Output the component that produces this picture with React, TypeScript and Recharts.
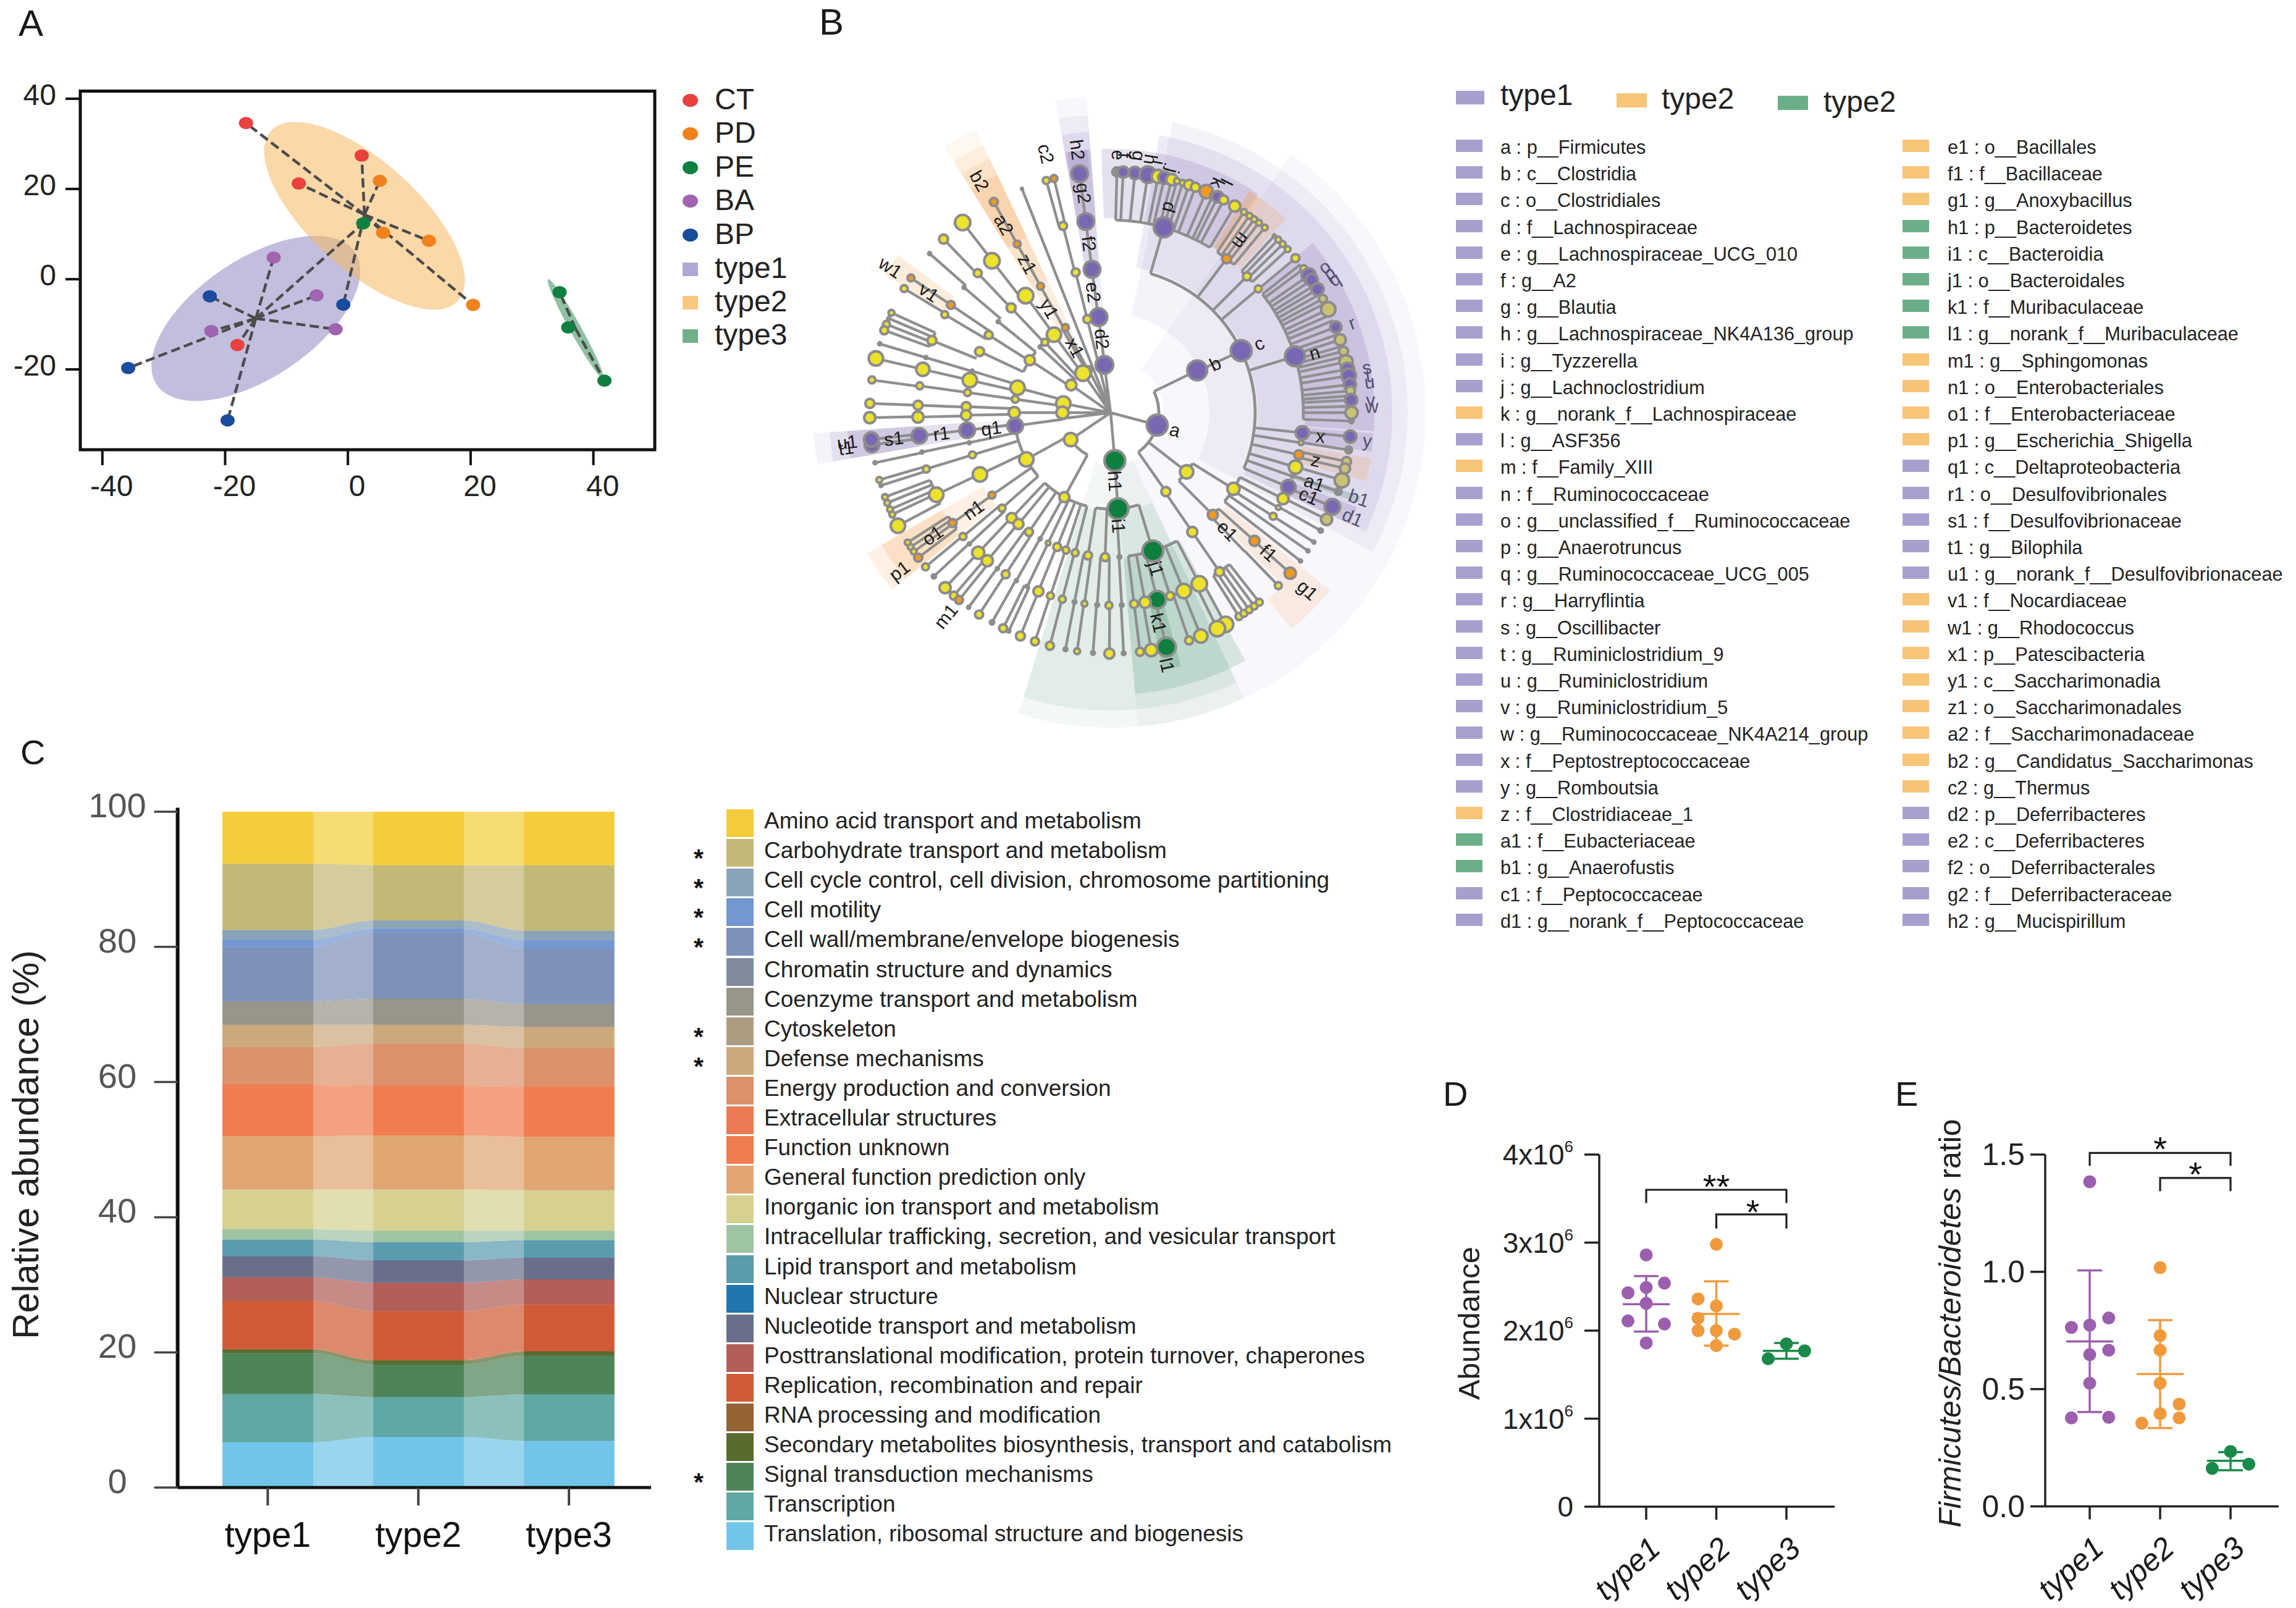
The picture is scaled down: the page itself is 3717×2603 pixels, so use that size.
import React from 'react';
import {
    Area, AreaChart, Bar, BarChart, ComposedChart, ErrorBar, Line, Pie, PieChart,
    ReferenceArea, Scatter, ScatterChart, XAxis, YAxis,
} from 'recharts';

const FONT = '"Liberation Sans", Arial, sans-serif';

// ---- panel A: PCoA points
const groupNames = ['CT', 'PD', 'PE', 'BA', 'BP'];
const groupColors = ['#e8413f', '#f0821e', '#0f8040', '#a064b0', '#1a4b9f'];
const ctPoints = [[-16.6, 34.6], [2.25, 27.4], [-8, 21.2], [-18, -14.6]];
const pdPoints = [[5.2, 21.8], [5.75, 10.3], [13.2, 8.5], [20.4, -5.7]];
const pePoints = [[2.5, 12.4], [34.5, -2.9], [35.9, -10.7], [41.8, -22.5]];
const baPoints = [[-12.1, 4.8], [-5.1, -3.6], [-22.25, -11.5], [-2, -11.1]];
const bpPoints = [[-22.5, -3.8], [-0.75, -5.65], [-35.8, -19.7], [-19.6, -31.3]];
const pcoaGroups = [ctPoints, pdPoints, pePoints, baPoints, bpPoints];
const type1Center = [-15, -8.7];
const type2Center = [2.7, 14.3];
const type3Center = [37.1, -11];
const type1Members = [ctPoints[3], baPoints[0], baPoints[1], baPoints[2], baPoints[3], bpPoints[0], bpPoints[2], bpPoints[3], pePoints[0]];
const type2Members = [ctPoints[0], ctPoints[1], ctPoints[2], pdPoints[0], pdPoints[1], pdPoints[2], pdPoints[3], bpPoints[1]];
const type3Members = [pePoints[1], pePoints[3]];
const pcoaXTicks = [-40, -20, 0, 20, 40];
const pcoaYTicks = [-20, 0, 20, 40];
const typeNames = ['type1', 'type2', 'type3'];
const typeSwatches = ['#b0a8d4', '#f8c880', '#72b08a'];

// ---- panel B: cladogram. Each fan is [parent level, children], child = [clockwise angle from north, node radius, kind]
type Child = [number, number, string];
type Fan = [number, Child[]];
const rootFan: Fan[] = [
    [0, [[105, 18, 'p'], [175, 18, 'g'], [-7.4, 15, 'p'], [-14, 0, ''], [-21.6, 0, ''], [-27, 5, 'o'], [-35, 13, 'y'], [-55, 8.5, 'y'], [-79, 12, 'y'], [-90, 10, 'y'], [-97, 0, ''], [-124, 11, 'y']]],
];
const firmicutesFans: Fan[] = [
    [1, [[64, 17, 'p'], [127.9, 11, 'y'], [145, 7, 'y']]],
    [2, [[64.6, 18, 'p']]],
    [3, [[16, 17, 'p'], [37, 7, 'o'], [45, 6, 'y'], [50, 5, 'y'], [73, 17, 'p'], [96, 11, 'p'], [99, 3, 'y'], [102.6, 7, 'o'], [106.4, 11, 'y'], [109.3, 3, 't'], [112.7, 12, 'p']]],
    [4, [[1.5, 8, 't'], [3, 9, 'p'], [5.8, 10, 'p'], [8.9, 14, 'p'], [11.4, 11, 'y'], [12.9, 10, 'p'], [14.7, 9, 'y'], [16, 4, 'y'], [17.4, 4, 'y'], [19, 8, 'y'], [20.6, 7, 'y'], [23.4, 11, 'o'], [25.2, 4, 'y'], [26.4, 9, 'p'], [28, 7, 'y'], [31, 9, 'y']]],
    [4, [[33.6, 4, 'y'], [35.2, 4, 'y'], [36.6, 4, 'y'], [38, 4, 'y'], [39.8, 4, 'y']]],
    [4, [[42.8, 3, 't'], [44.1, 4, 'y'], [45.6, 4, 'y'], [47.3, 4, 'y']]],
    [4, [[50.1, 6, 'y']]],
    [4, [[52, 0, ''], [53.3, 5, 'y'], [55.3, 12, 'p'], [56.6, 10, 'p'], [58, 0, ''], [59.2, 10, 'p'], [60.5, 0, ''], [61.8, 6, 'l'], [63, 0, ''], [64.6, 12, 'l'], [66, 0, ''], [67.5, 0, ''], [69.2, 9, 'p'], [71, 0, ''], [72.4, 9, 'l'], [74, 0, ''], [75.2, 7, 'l'], [76.5, 0, ''], [77.8, 11, 'l'], [79.6, 11, 'p'], [81.2, 12, 'p'], [83.3, 10, 'p'], [84.8, 7, 'l'], [86, 0, ''], [87, 10, 'p'], [88.5, 0, ''], [90, 10, 'l'], [92, 4, 't']]],
    [4, [[95.7, 10, 'p']]],
    [4, [[98.9, 6, 't']]],
    [4, [[101.7, 7, 'l'], [103.4, 8, 'l']]],
    [4, [[106.3, 12, 'l']]],
    [4, [[109.1, 6, 't']]],
    [4, [[113, 13, 'p']]],
    [2, [[121.8, 10, 'y'], [135, 8, 'o']]],
    [3, [[116.5, 9, 'y'], [119.5, 3, 'y'], [122.5, 5, 'y'], [125, 0, ''], [128, 0, '']]],
    [4, [[116.3, 9, 'l']]],
    [4, [[119.3, 4, 't']]],
    [4, [[122.5, 3, 't']]],
    [4, [[125, 3, 't']]],
    [4, [[128, 3, 't']]],
    [3, [[131.7, 8, 'o'], [136, 0, '']]],
    [4, [[131.8, 9, 'o']]],
    [4, [[135.9, 5, 'y']]],
    [2, [[145.6, 8, 'y']]],
    [3, [[145.6, 7, 'y']]],
    [4, [[147.8, 5, 'y'], [146.4, 5, 'y'], [144.9, 5, 'y'], [143.4, 5, 'y'], [141.9, 5, 'y']]],
];
const bacteroidetesFans: Fan[] = [
    [1, [[175.6, 18, 'g']]],
    [2, [[163, 18, 'g'], [176.5, 3.5, 't'], [182.2, 6, 'y'], [189, 6, 'y']]],
    [3, [[152.6, 13, 'y'], [157.7, 12, 'y'], [162, 6, 'y'], [166, 15, 'g'], [169.7, 9, 'y'], [173, 6, 'y']]],
    [4, [[151.5, 13, 'y'], [153.7, 13, 'y'], [158, 11, 'y'], [161, 6, 'y']]],
    [4, [[166.6, 16, 'g'], [170.3, 10, 'y'], [173, 6, 'y']]],
    [3, [[176.7, 3.5, 't']]],
    [4, [[176.9, 3.5, 't']]],
    [3, [[180.5, 5, 'y'], [184, 3.5, 't']]],
    [4, [[180.3, 8, 'y']]],
    [4, [[184.2, 3.5, 't']]],
    [3, [[187.8, 4, 'y'], [190.8, 3.5, 't']]],
    [4, [[188, 4, 'y']]],
    [4, [[190.8, 3.5, 't']]],
];
const deferriFans: Fan[] = [
    [1, [[-7.2, 15, 'p']]], [2, [[-7.4, 14, 'p']]], [3, [[-7.4, 14, 'p']]], [4, [[-7.4, 14, 'p']]],
];
const thermusFans: Fan[] = [
    [1, [[-14, 6, 'y']]], [2, [[-14, 6, 'y']]], [3, [[-14.3, 6, 'y']]], [4, [[-15.5, 5, 'y'], [-13.6, 5, 'o']]],
    [1, [[-21.6, 0, '']]], [2, [[-21.6, 0, '']]], [3, [[-21.6, 0, '']]], [4, [[-21.6, 2, 't']]],
];
const patesciFans: Fan[] = [
    [1, [[-28, 5, 'o'], [-30, 0, '']]], [2, [[-29, 5, 'o']]], [3, [[-29, 5, 'o']]], [4, [[-29, 6, 'o']]],
    [1, [[-36, 12, 'y'], [-43, 5, 'y']]],
    [2, [[-36, 13, 'y']]], [3, [[-38, 13, 'y']]], [4, [[-37.9, 13, 'y']]],
    [2, [[-43.5, 7, 'y']]], [3, [[-43.6, 6, 'y']]], [4, [[-43.9, 7, 'y']]],
];
const westFans: Fan[] = [
    [1, [[-47, 3, 't'], [-57, 8, 'y']]],
    [2, [[-51, 3, 't'], [-57.5, 6, 'y'], [-65, 7, 'y']]],
    [3, [[-49.5, 3, 't']]], [4, [[-48.7, 3, 't']]],
    [3, [[-56, 6, 'o'], [-59.4, 5, 'y']]], [4, [[-56, 5, 'o']]], [4, [[-59, 5, 'y']]],
    [3, [[-68, 7, 'y']]], [4, [[-65.5, 4, 'y'], [-67, 3, 't'], [-68.5, 5, 'y'], [-70, 6, 'y']]],
    [1, [[-75, 12, 'y'], [-82, 5, 'y']]],
    [2, [[-73.3, 3, 't'], [-77, 12, 'y']]], [3, [[-73.4, 3, 't']]], [4, [[-73.4, 3, 't']]],
    [3, [[-77, 11, 'y']]], [4, [[-77, 12, 'y']]],
    [2, [[-82, 5, 'y']]], [3, [[-82, 5, 'y']]], [4, [[-82.2, 5, 'y']]],
    [1, [[-90, 9, 'y']]],
    [2, [[-87.6, 7, 'y'], [-91, 8, 'y']]],
    [3, [[-87.8, 7, 'y']]], [4, [[-87.8, 7, 'y']]], [3, [[-91.3, 9, 'y']]], [4, [[-91.2, 9, 'y']]],
    [1, [[-97.9, 13, 'p']]], [2, [[-97, 13, 'p']]], [3, [[-96.9, 13, 'p']]], [4, [[-97.7, 12, 'p'], [-96.4, 12, 'p']]],
];
const proteoFans: Fan[] = [
    [1, [[-119, 12, 'y'], [-151.3, 8, 'y']]],
    [2, [[-102, 3, 't'], [-107, 5, 'y'], [-115.3, 12, 'y'], [-124.8, 5, 'o'], [-131.3, 5, 'y']]],
    [3, [[-101.8, 3, 't']]], [4, [[-102, 3, 't']]],
    [3, [[-107, 5, 'y']]], [4, [[-106.2, 4, 'y'], [-107.6, 3, 't']]],
    [3, [[-115.2, 12, 'y']]], [4, [[-110.5, 4, 'y'], [-112, 4, 'y'], [-113.7, 4, 'y'], [-115, 4, 'y'], [-118, 12, 'y']]],
    [3, [[-124.9, 6, 'o']]], [4, [[-122.6, 4, 'y'], [-123.9, 4, 'y'], [-125.2, 4, 'y'], [-127, 6, 'o']]],
    [3, [[-130, 5, 'y'], [-132.9, 3, 't']]], [4, [[-129.8, 5, 'y']]], [4, [[-132.8, 4, 't']]],
    [2, [[-136.8, 8, 'y'], [-140.4, 8, 'y'], [-145.6, 6, 'y'], [-150.8, 3, 't'], [-154.4, 3, 'y'], [-158.3, 6, 'y'], [-162, 5, 'y'], [-165.8, 5, 'y']]],
    [3, [[-136.6, 10, 'y']]], [4, [[-136.6, 9, 'y']]],
    [3, [[-140.2, 9, 'y']]], [4, [[-139.4, 6, 'y'], [-141, 6, 'o']]],
    [3, [[-144, 3, 't'], [-147, 6, 'y']]], [4, [[-143.9, 3, 't']]], [4, [[-146.9, 6, 'y']]],
    [3, [[-150.7, 3, 't']]], [4, [[-150.5, 4, 't']]],
    [3, [[-154.4, 3, 't']]], [4, [[-153.5, 6, 'y'], [-155, 3, 't']]],
    [3, [[-158, 8, 'y']]], [4, [[-158, 7, 'y']]],
    [3, [[-161.8, 5, 'y']]], [4, [[-161.7, 6, 'y']]],
    [3, [[-165.5, 5, 'y']]], [4, [[-165.4, 6, 'y']]],
];
const cladeFans = [...rootFan, ...firmicutesFans, ...bacteroidetesFans, ...deferriFans, ...thermusFans, ...patesciFans, ...westFans, ...proteoFans];

// highlight wedges by taxonomic depth: [start angle, end angle, inner radius, outer radius]
const purplePhylum = [[35, 175, 86, 510], [-10, -4.4, 85, 513]];
const purpleClass = [[12, 118, 160, 481], [-10, -4.4, 160, 483], [-100, -94, 160, 482]];
const purpleOrder = [[10, 115, 238, 456], [-10, -4.4, 238, 456], [-100, -94, 238, 456]];
const purpleFamily = [[-2, 34, 315, 427], [50, 94, 315, 427], [94.5, 98.5, 315, 427], [111, 115, 315, 427], [-10, -4.4, 315, 427], [-9.5, -5, 395, 427], [-100, -94, 315, 427]];
const greenPhylum = [[155, 197, 85, 510]];
const greenClass = [[155, 197, 160, 482]];
const greenOrder = [[151.5, 175, 238, 457]];
const greenFamily = [[164.5, 168.5, 315, 426], [108.5, 110, 315, 427]];
const orangePhylum = [[-32, -25.5, 85, 508]];
const orangeClass = [[-32, -25.5, 160, 480]];
const orangeOrder = [[-32, -25.5, 238, 456], [-129, -120, 238, 455], [129, 135, 240, 395], [129, 140, 395, 457]];
const orangeFamily = [[32, 42, 315, 423], [32, 35, 315, 423], [100, 105, 315, 428], [-32, -25.5, 315, 427], [-58.5, -53.5, 315, 428], [-129, -120, 315, 428]];

// clade labels: [text, angle, radius]
const cladeLabels: [string, number, number][] = [
    ['a', 105, 108], ['b', 65, 187], ['c', 65, 265], ['n', 73.6, 344], ['d', 16, 346], ['e', 1.7, 417], ['f', 3.1, 417], ['g', 6.3, 418], ['h', 9, 415], ['i', 11, 412], ['j', 14.4, 404], ['k', 25, 410], ['l', 26.7, 418], ['m', 37.2, 349],
    ['x', 96.4, 342], ['z', 103, 341], ['a1', 109, 349], ['c1', 112.8, 348], ['e1', 135.3, 269], ['f1', 131.6, 342], ['g1', 132, 429], ['h1', 176.4, 111], ['i1', 176, 184], ['j1', 163.7, 263], ['k1', 167.2, 349], ['l1', 167.4, 419],
    ['m1', -141, 424], ['n1', -125.3, 272], ['o1', -124.6, 350], ['p1', -126.8, 427], ['q1', -97.4, 195], ['r1', -97, 276], ['s1', -96.8, 353.5], ['t1', -97.6, 432], ['u1', -96.4, 429], ['v1', -56.5, 353], ['w1', -56.6, 427],
    ['x1', -28.7, 120], ['y1', -30.6, 195.5], ['z1', -29.2, 276], ['a2', -29.6, 350], ['b2', -29.5, 431], ['c2', -14, 432], ['d2', -6.7, 120], ['e2', -8.2, 197], ['f2', -7.3, 275.6], ['g2', -7, 358], ['h2', -7.2, 429],
];
const fadedLabels: [string, number, number][] = [
    ['o', 55.7, 419], ['p', 57.4, 420], ['q', 59.2, 422], ['r', 69.6, 417], ['s', 80, 421], ['t', 81.8, 421], ['u', 83.2, 422], ['v', 87.2, 421.5], ['w', 88.6, 423], ['y', 96.2, 418], ['b1', 109, 425], ['d1', 113.4, 427],
];

const taxaColumn1: [string, string][] = [
    ['a : p__Firmicutes', 'p'], ['b : c__Clostridia', 'p'], ['c : o__Clostridiales', 'p'], ['d : f__Lachnospiraceae', 'p'], ['e : g__Lachnospiraceae_UCG_010', 'p'], ['f : g__A2', 'p'], ['g : g__Blautia', 'p'], ['h : g__Lachnospiraceae_NK4A136_group', 'p'], ['i : g__Tyzzerella', 'p'], ['j : g__Lachnoclostridium', 'p'], ['k : g__norank_f__Lachnospiraceae', 'o'], ['l : g__ASF356', 'p'], ['m : f__Family_XIII', 'o'], ['n : f__Ruminococcaceae', 'p'], ['o : g__unclassified_f__Ruminococcaceae', 'p'], ['p : g__Anaerotruncus', 'p'], ['q : g__Ruminococcaceae_UCG_005', 'p'], ['r : g__Harryflintia', 'p'], ['s : g__Oscillibacter', 'p'], ['t : g__Ruminiclostridium_9', 'p'], ['u : g__Ruminiclostridium', 'p'], ['v : g__Ruminiclostridium_5', 'p'], ['w : g__Ruminococcaceae_NK4A214_group', 'p'], ['x : f__Peptostreptococcaceae', 'p'], ['y : g__Romboutsia', 'p'], ['z : f__Clostridiaceae_1', 'o'], ['a1 : f__Eubacteriaceae', 'g'], ['b1 : g__Anaerofustis', 'g'], ['c1 : f__Peptococcaceae', 'p'], ['d1 : g__norank_f__Peptococcaceae', 'p'],
];
const taxaColumn2: [string, string][] = [
    ['e1 : o__Bacillales', 'o'], ['f1 : f__Bacillaceae', 'o'], ['g1 : g__Anoxybacillus', 'o'], ['h1 : p__Bacteroidetes', 'g'], ['i1 : c__Bacteroidia', 'g'], ['j1 : o__Bacteroidales', 'g'], ['k1 : f__Muribaculaceae', 'g'], ['l1 : g__norank_f__Muribaculaceae', 'g'], ['m1 : g__Sphingomonas', 'o'], ['n1 : o__Enterobacteriales', 'o'], ['o1 : f__Enterobacteriaceae', 'o'], ['p1 : g__Escherichia_Shigella', 'o'], ['q1 : c__Deltaproteobacteria', 'p'], ['r1 : o__Desulfovibrionales', 'p'], ['s1 : f__Desulfovibrionaceae', 'p'], ['t1 : g__Bilophila', 'p'], ['u1 : g__norank_f__Desulfovibrionaceae', 'p'], ['v1 : f__Nocardiaceae', 'o'], ['w1 : g__Rhodococcus', 'o'], ['x1 : p__Patescibacteria', 'o'], ['y1 : c__Saccharimonadia', 'o'], ['z1 : o__Saccharimonadales', 'o'], ['a2 : f__Saccharimonadaceae', 'o'], ['b2 : g__Candidatus_Saccharimonas', 'o'], ['c2 : g__Thermus', 'o'], ['d2 : p__Deferribacteres', 'p'], ['e2 : c__Deferribacteres', 'p'], ['f2 : o__Deferribacterales', 'p'], ['g2 : f__Deferribacteraceae', 'p'], ['h2 : g__Mucispirillum', 'p'],
];

// ---- panel C: COG categories in legend order (top of the stack first)
const cogNames = ['Amino acid transport and metabolism', 'Carbohydrate transport and metabolism', 'Cell cycle control, cell division, chromosome partitioning', 'Cell motility', 'Cell wall/membrane/envelope biogenesis', 'Chromatin structure and dynamics', 'Coenzyme transport and metabolism', 'Cytoskeleton', 'Defense mechanisms', 'Energy production and conversion', 'Extracellular structures', 'Function unknown', 'General function prediction only', 'Inorganic ion transport and metabolism', 'Intracellular trafficking, secretion, and vesicular transport', 'Lipid transport and metabolism', 'Nuclear structure', 'Nucleotide transport and metabolism', 'Posttranslational modification, protein turnover, chaperones', 'Replication, recombination and repair', 'RNA processing and modification', 'Secondary metabolites biosynthesis, transport and catabolism', 'Signal transduction mechanisms', 'Transcription', 'Translation, ribosomal structure and biogenesis'];
const cogColors = ['#f4cd3d', '#c3b977', '#8ba3b6', '#7397d0', '#7e91b8', '#7f8b9b', '#98958a', '#ae9c82', '#cca97d', '#db9169', '#ea7b54', '#ef7d4f', '#e0a672', '#d6d191', '#9fc4a4', '#5a9bae', '#2176ae', '#696f8a', '#b25e59', '#d05b36', '#946333', '#5a6b2f', '#4e8459', '#60a8a4', '#72c5e8'];
const cogType1 = [7.7, 9.8, 1.4, 1.2, 7.9, 0.1, 3.4, 0.1, 3.2, 5.6, 0.1, 7.5, 7.9, 5.9, 1.5, 2.45, 0.05, 3.1, 3.5, 7.1, 0.1, 0.5, 6.05, 7.15, 6.7];
const cogType2 = [7.9, 8.2, 1.2, 0.6, 9.7, 0.1, 3.8, 0.1, 2.7, 6.2, 0.1, 7.3, 8, 6.1, 1.7, 2.65, 0.05, 3.3, 4.2, 7.2, 0.1, 0.6, 4.8, 5.9, 7.5];
const cogType3 = [7.9, 9.7, 1.4, 1.3, 8.1, 0.1, 3.3, 0.1, 3.1, 5.6, 0.1, 7.4, 7.9, 6, 1.4, 2.55, 0.05, 3.2, 3.7, 6.9, 0.1, 0.6, 5.7, 6.9, 6.9];
const cogStarred = [1, 2, 3, 4, 7, 8, 22];
const abundanceTicks = [0, 20, 40, 60, 80, 100];

// ---- panels D and E
const abundancePoints = [
    [[1, 2860000], [0.74, 2430000], [1, 2490000], [1.26, 2540000], [1, 2310000], [0.74, 2110000], [1.26, 2075000], [1, 1860000]],
    [[2, 2980000], [1.74, 2360000], [2, 2280000], [1.74, 2140000], [1.74, 2000000], [2.26, 1960000], [2, 2000000], [2, 1830000]],
    [[3, 1850000], [3.26, 1770000], [2.74, 1680000]],
];
const abundanceMean = [2300000, 2190000, 1770000];
const abundanceLow = [1990000, 1830000, 1680000];
const abundanceHigh = [2620000, 2560000, 1860000];
const abundanceBrackets = [[1, 3, 3600000, 3450000], [2, 3, 3320000, 3160000]];
const abundanceStars: [number, number, string][] = [[2, 3720000, '**'], [2.52, 3430000, '*']];
const abundanceYTicks = [0, 1000000, 2000000, 3000000, 4000000];

const ratioPoints = [
    [[1, 1.384], [1.27, 0.803], [0.74, 0.763], [1, 0.773], [1.27, 0.666], [1, 0.647], [1, 0.525], [0.74, 0.377], [1.27, 0.38]],
    [[2, 1.018], [2, 0.728], [2, 0.666], [2, 0.525], [2.27, 0.436], [2, 0.395], [2.27, 0.377], [1.74, 0.355]],
    [[3, 0.234], [3.26, 0.18], [2.74, 0.162]],
];
const ratioMean = [0.703, 0.564, 0.194];
const ratioLow = [0.402, 0.334, 0.154];
const ratioHigh = [1.006, 0.794, 0.231];
const ratioBrackets = [[1, 3, 1.507, 1.452], [2, 3, 1.4, 1.344]];
const ratioStars: [number, number, string][] = [[2, 1.555, '*'], [2.5, 1.448, '*']];
const ratioYTicks = [0, 0.5, 1, 1.5];

const dotColors = ['#9b5fae', '#f09a3e', '#1a8a4a'];

// ---- helpers
const NODE_FILL: Record<string, string> = { y: '#ece22c', p: '#7a67b3', g: '#0e7f3e', o: '#f39a1e', t: '#8d8d8d', l: '#c8c274' };
const TAXA_FILL: Record<string, string> = { p: '#a7a0cf', o: '#f6c578', g: '#6cae87' };
const LEVEL_R = [0, 78, 156, 234, 312, 390];
const polar = (angle: number, r: number) => ({
    x: r * Math.sin((angle * Math.PI) / 180),
    y: r * Math.cos((angle * Math.PI) / 180),
});

const spokeData: { x: number; y: number | null }[] = [];
const nodeData: { x: number; y: number; r: number; kind: string }[] = [];
const arcData: number[][] = [];
cladeFans.forEach(([level, kids]) => {
    const angles = kids.map(k => k[0]);
    if (level > 0 && kids.length > 1) arcData.push([Math.min(...angles), Math.max(...angles), LEVEL_R[level]]);
    kids.forEach(([angle, r, kind]) => {
        const from = polar(angle, LEVEL_R[level]);
        const to = polar(angle, LEVEL_R[level + 1]);
        spokeData.push(from, to, { x: to.x, y: null });
        if (r > 0) nodeData.push({ ...to, r, kind });
    });
});

const labelRow = (fill: string) => ([text, angle, r]: [string, number, number]) => ({ ...polar(angle, r), text, angle, fill });
const labelData = [...cladeLabels.map(labelRow('#1c1c1c')), ...fadedLabels.map(labelRow('#55506e'))];

const Label = ({ x, y, size, children, color = '#1a1a1a', rotate = 0, weight = 400, italic = false }: any) => (
    <div
        style={{
            position: 'absolute', left: x, top: y, fontFamily: FONT, fontSize: size, color, fontWeight: weight,
            fontStyle: italic ? 'italic' : 'normal', whiteSpace: 'nowrap', lineHeight: 1,
            transform: `translate(${rotate ? '-50%' : '0'}, -50%) rotate(${rotate}deg)`,
        }}
    >
        {children}
    </div>
);

const Swatch = ({ x, y, w, h, color, round }: any) => (
    <div style={{ position: 'absolute', left: x, top: y, width: w, height: h, background: color, borderRadius: round ? '50%' : 0 }} />
);

const WedgeLayer = ({ wedges, color, opacity }: { wedges: number[][]; color: string; opacity: number }) => (
    <PieChart width={1100} height={1100} margin={{ top: 0, left: 0, right: 0, bottom: 0 }} style={{ position: 'absolute', left: 0, top: 0 }}>
        {wedges.map(([a0, a1, r0, r1], i) => (
            <Pie
                key={i}
                data={[{ value: 1, fill: color }]}
                dataKey="value"
                cx={550}
                cy={550}
                startAngle={90 - a0}
                endAngle={90 - a1}
                innerRadius={r0}
                outerRadius={r1}
                fill={color}
                fillOpacity={opacity}
                stroke="none"
                isAnimationActive={false}
            />
        ))}
    </PieChart>
);

const drawNode = (p: any) => {
    const { cx, cy, payload } = p;
    if (payload.kind === 't') return <circle cx={cx} cy={cy} r={payload.r + 1.5} fill={NODE_FILL.t} />;
    const outer = payload.r + 2.5 * (1 - payload.r / 18) + 0.8;
    return <circle cx={cx} cy={cy} r={outer - 2} fill={NODE_FILL[payload.kind]} stroke="#8c8c8c" strokeWidth={4.2} />;
};

const drawCladeLabel = (p: any) => {
    const { cx, cy, payload } = p;
    const rot = payload.angle > -180 && payload.angle < 45 ? payload.angle + 90 : payload.angle - 90;
    return (
        <text x={cx} y={cy} transform={`rotate(${rot} ${cx} ${cy})`} textAnchor="middle" dominantBaseline="central" fontFamily={FONT} fontSize={30} fill={payload.fill}>
            {payload.text}
        </text>
    );
};

const Cladogram = () => (
    <div style={{ position: 'absolute', left: 1248, top: 118, width: 1100, height: 1100 }}>
        <WedgeLayer wedges={purplePhylum} color="#7b68b0" opacity={0.05} />
        <WedgeLayer wedges={purpleClass} color="#7b68b0" opacity={0.08} />
        <WedgeLayer wedges={purpleOrder} color="#7b68b0" opacity={0.13} />
        <WedgeLayer wedges={purpleFamily} color="#7b68b0" opacity={0.2} />
        <WedgeLayer wedges={greenPhylum} color="#2d8a5a" opacity={0.06} />
        <WedgeLayer wedges={greenClass} color="#2d8a5a" opacity={0.09} />
        <WedgeLayer wedges={greenOrder} color="#2d8a5a" opacity={0.16} />
        <WedgeLayer wedges={greenFamily} color="#2d8a5a" opacity={0.22} />
        <WedgeLayer wedges={orangePhylum} color="#f5a04a" opacity={0.08} />
        <WedgeLayer wedges={orangeClass} color="#f5a04a" opacity={0.1} />
        <WedgeLayer wedges={orangeOrder} color="#f5a04a" opacity={0.15} />
        <WedgeLayer wedges={orangeFamily} color="#f5a04a" opacity={0.2} />
        <PieChart width={1100} height={1100} margin={{ top: 0, left: 0, right: 0, bottom: 0 }} style={{ position: 'absolute', left: 0, top: 0 }}>
            {arcData.map(([a0, a1, r], i) => (
                <Pie key={i} data={[{ value: 1, fill: '#8f8f8f' }]} dataKey="value" cx={550} cy={550} startAngle={90 - a0} endAngle={90 - a1} innerRadius={r - 2.4} outerRadius={r + 2.4} fill="#8f8f8f" stroke="none" isAnimationActive={false} />
            ))}
        </PieChart>
        <ComposedChart width={1100} height={1100} margin={{ top: 0, left: 0, right: 0, bottom: 0 }} style={{ position: 'absolute', left: 0, top: 0 }}>
            <XAxis dataKey="x" type="number" domain={[-550, 550]} hide />
            <YAxis dataKey="y" type="number" domain={[-550, 550]} hide />
            <Line data={spokeData} dataKey="y" stroke="#8f8f8f" strokeWidth={4.4} dot={false} connectNulls={false} isAnimationActive={false} />
            <Scatter data={nodeData} shape={drawNode} isAnimationActive={false} />
            <Scatter data={labelData} shape={drawCladeLabel} isAnimationActive={false} />
        </ComposedChart>
    </div>
);

const hiddenDot = () => <g />;
const ellipseShape = (rx: number, ry: number, rot: number, fill: string, opacity: number) => (p: any) => (
    <ellipse cx={p.cx} cy={p.cy} rx={rx} ry={ry} transform={`rotate(${rot} ${p.cx} ${p.cy})`} fill={fill} fillOpacity={opacity} />
);
const toXY = ([x, y]: number[]) => ({ x, y });
const spokeLine = { stroke: '#4c4c4c', strokeWidth: 4.5, strokeDasharray: '15 7' };

const PcoaPanel = () => (
    <ScatterChart width={1100} height={840} margin={{ top: 147.4, left: 129, right: 40, bottom: 111 }} style={{ position: 'absolute', left: 0, top: 0 }}>
        <XAxis
            dataKey="x" type="number" height={1} domain={[-43.6, 50]} ticks={pcoaXTicks} axisLine={false}
            tickLine={{ stroke: '#111', strokeWidth: 4 }} tickSize={25}
            tick={(p: any) => <text x={p.x + 15} y={803} textAnchor="middle" fontFamily={FONT} fontSize={48} fill="#222">{p.payload.value}</text>}
        />
        <YAxis
            dataKey="y" type="number" width={1} domain={[-37.8, 41.7]} ticks={pcoaYTicks} axisLine={false}
            tickLine={{ stroke: '#111', strokeWidth: 4 }} tickSize={24}
            tick={(p: any) => <text x={91} y={p.y + 10} textAnchor="end" fontFamily={FONT} fontSize={48} fill="#222">{p.payload.value}</text>}
        />
        <ReferenceArea x1={-43.6} x2={50} y1={-37.8} y2={41.7} fill="none" stroke="#111" strokeWidth={5} />
        <Scatter data={[toXY(type1Center)]} shape={ellipseShape(193, 96, -33.8, '#8f88c2', 0.55)} isAnimationActive={false} />
        <Scatter data={[{ x: 2.7, y: 14.05 }]} shape={ellipseShape(204.6, 87.5, 42.2, '#f5b860', 0.55)} isAnimationActive={false} />
        <Scatter data={[toXY(type3Center)]} shape={ellipseShape(92, 9, 61, '#5fa87c', 0.7)} isAnimationActive={false} />
        {type1Members.map((pt, i) => (
            <Scatter key={`t1${i}`} data={[toXY(type1Center), toXY(pt)]} line={spokeLine} shape={hiddenDot} isAnimationActive={false} />
        ))}
        {type2Members.map((pt, i) => (
            <Scatter key={`t2${i}`} data={[toXY(type2Center), toXY(pt)]} line={spokeLine} shape={hiddenDot} isAnimationActive={false} />
        ))}
        {type3Members.map((pt, i) => (
            <Scatter key={`t3${i}`} data={[toXY(type3Center), toXY(pt)]} line={spokeLine} shape={hiddenDot} isAnimationActive={false} />
        ))}
        {pcoaGroups.map((pts, i) => (
            <Scatter
                key={groupNames[i]}
                data={pts.map(toXY)}
                shape={(p: any) => <ellipse cx={p.cx} cy={p.cy} rx={11.5} ry={10} fill={groupColors[i]} />}
                isAnimationActive={false}
            />
        ))}
    </ScatterChart>
);

const BAR_HALF = 0.3;
const cogOrder = cogNames.map((_, i) => cogNames.length - 1 - i);
const solidRows = typeNames.map((name, t) => {
    const src = [cogType1, cogType2, cogType3][t];
    const row: Record<string, any> = { name };
    cogNames.forEach((c, i) => { row[c] = src[i]; });
    return row;
});
const flowRows = solidRows.flatMap((row, t) => [{ ...row, pos: t - BAR_HALF }, { ...row, pos: t + BAR_HALF }]);

const StackedPanel = () => {
    const size = { width: 1100, height: 1400 };
    return (
        <div style={{ position: 'absolute', left: 0, top: 1200, width: 1100, height: 1400 }}>
            <AreaChart {...size} data={flowRows} margin={{ top: 107.4, left: 287.6, right: 46, bottom: 192 }} style={{ position: 'absolute', left: 0, top: 0 }}>
                <XAxis dataKey="pos" type="number" domain={[-0.596, 2.547]} hide />
                <YAxis type="number" domain={[0, 100.6]} hide />
                {cogOrder.map(i => (
                    <Area key={i} dataKey={cogNames[i]} stackId="flow" type="monotoneX" fill={cogColors[i]} fillOpacity={0.72} stroke="none" isAnimationActive={false} />
                ))}
            </AreaChart>
            <BarChart {...size} data={solidRows} margin={{ top: 107.4, left: 286.6, right: 46, bottom: 191 }} style={{ position: 'absolute', left: 0, top: 0 }} barSize={146.6}>
                <XAxis
                    dataKey="name" height={1} padding={{ left: 23.9, right: 11 }}
                    axisLine={{ stroke: '#111', strokeWidth: 5 }} tickLine={{ stroke: '#444', strokeWidth: 4 }} tickSize={29}
                    tick={(p: any) => <text x={p.x} y={1304} textAnchor="middle" fontFamily={FONT} fontSize={57} fill="#111">{p.payload.value}</text>}
                />
                <YAxis
                    type="number" width={1} domain={[0, 100.6]} ticks={abundanceTicks}
                    axisLine={{ stroke: '#111', strokeWidth: 6 }} tickLine={{ stroke: '#444', strokeWidth: 3.5 }} tickSize={38}
                    tick={(p: any) => <text x={190} y={p.y + 9} textAnchor="middle" fontFamily={FONT} fontSize={56} fill="#555">{p.payload.value}</text>}
                />
                {cogOrder.map(i => (
                    <Bar key={i} dataKey={cogNames[i]} stackId="solid" fill={cogColors[i]} stroke="none" isAnimationActive={false} />
                ))}
            </BarChart>
        </div>
    );
};

const DotPanel = ({ left, plot, domainX, domainY, axisTop, points, means, lows, highs, brackets, stars, ticks, tickLabel, labelRight }: any) => (
    <ScatterChart
        width={plot.width + plot.left + 60}
        height={803}
        margin={{ top: plot.top, left: plot.left - 1, right: 60, bottom: 803 - plot.top - plot.height - 1 }}
        style={{ position: 'absolute', left, top: 1800, overflow: 'visible' }}
    >
        <XAxis
            dataKey="x" type="number" height={1} domain={domainX} ticks={[1, 2, 3]}
            axisLine={{ stroke: '#222', strokeWidth: 3.5 }} tickLine={{ stroke: '#222', strokeWidth: 3.5 }} tickSize={21}
            tick={(p: any) => (
                <text x={p.x + 26} y={plot.top + plot.height + 72} textAnchor="end" transform={`rotate(-42 ${p.x + 26} ${plot.top + plot.height + 72})`} fontFamily={FONT} fontStyle="italic" fontSize={50} fill="#1a1a1a">
                    {typeNames[p.payload.value - 1]}
                </text>
            )}
        />
        <YAxis
            dataKey="y" type="number" width={1} domain={domainY} ticks={ticks} axisLine={false}
            tickLine={{ stroke: '#222', strokeWidth: 3.5 }} tickSize={24}
            tick={(p: any) => tickLabel(p.y, p.payload.value, labelRight)}
        />
        <Scatter
            data={[{ x: domainX[0], y: 0 }, { x: domainX[0], y: axisTop }]}
            line={{ stroke: '#222', strokeWidth: 3.5 }}
            shape={hiddenDot}
            isAnimationActive={false}
        />
        {brackets.map(([x0, x1, top, foot]: number[], i: number) => (
            <Scatter
                key={i}
                data={[{ x: x0, y: foot }, { x: x0, y: top }, { x: x1, y: top }, { x: x1, y: foot }]}
                line={{ stroke: '#222', strokeWidth: 3.2 }}
                shape={hiddenDot}
                isAnimationActive={false}
            />
        ))}
        {stars.map(([x, y, text]: [number, number, string], i: number) => (
            <Scatter
                key={i}
                data={[{ x, y }]}
                shape={(p: any) => <text x={p.cx} y={p.cy + 31} textAnchor="middle" fontFamily={FONT} fontSize={56} fill="#111">{text}</text>}
                isAnimationActive={false}
            />
        ))}
        {points.map((pts: number[][], t: number) => (
            <Scatter
                key={t}
                data={pts.map(toXY)}
                shape={(p: any) => <circle cx={p.cx} cy={p.cy} r={10.5} fill={dotColors[t]} />}
                isAnimationActive={false}
            />
        ))}
        {means.map((m: number, t: number) => (
            <Scatter
                key={t}
                data={[{ x: t + 1, y: m, err: [m - lows[t], highs[t] - m] }]}
                shape={(p: any) => <line x1={p.cx - 38} x2={p.cx + 38} y1={p.cy} y2={p.cy} stroke={dotColors[t]} strokeWidth={3.5} />}
                isAnimationActive={false}
            >
                <ErrorBar dataKey="err" direction="y" width={20} stroke={dotColors[t]} strokeWidth={3.5} isAnimationActive={false} />
            </Scatter>
        ))}
    </ScatterChart>
);

const abundanceTick = (y: number, v: number, right: number) => (
    v === 0
        ? <text x={right} y={y + 16} textAnchor="end" fontFamily={FONT} fontSize={46} fill="#222">0</text>
        : (
            <text x={right} y={y + 16} textAnchor="end" fontFamily={FONT} fontSize={46} fill="#222">
                {`${v / 1000000}x10`}
                <tspan fontSize={26} dy={-20}>6</tspan>
            </text>
        )
);
const ratioTick = (y: number, v: number, right: number) => (
    <text x={right} y={y + 17} textAnchor="end" fontFamily={FONT} fontSize={50} fill="#222">{v.toFixed(1)}</text>
);

const TAXA_TOP = 236;
const TAXA_PITCH = 43.2;
const TaxaColumn = ({ rows, swatchX, textX }: { rows: [string, string][]; swatchX: number; textX: number }) => (
    <>
        {rows.map(([text, kind], i) => (
            <React.Fragment key={text}>
                <Swatch x={swatchX} y={TAXA_TOP + i * TAXA_PITCH - 10} w={43} h={20} color={TAXA_FILL[kind]} />
                <Label x={textX} y={TAXA_TOP + i * TAXA_PITCH + 3} size={30.7} color="#222">{text}</Label>
            </React.Fragment>
        ))}
    </>
);

export default function App() {
    return (
        <div style={{ position: 'absolute', left: 0, top: 0, width: 3717, height: 2603, background: '#fff', overflow: 'hidden' }}>
            <Label x={30} y={38} size={60}>A</Label>
            <Label x={1326} y={36} size={60}>B</Label>
            <Label x={33} y={1218} size={56}>C</Label>
            <Label x={2336} y={1771} size={56}>D</Label>
            <Label x={3068} y={1771} size={56}>E</Label>

            <PcoaPanel />
            {groupNames.map((name, i) => (
                <React.Fragment key={name}>
                    <Swatch x={1105} y={[152, 206, 261, 315, 370][i]} w={25} h={21} color={groupColors[i]} round />
                    <Label x={1157} y={[161, 215, 270, 324, 379][i]} size={48} color="#222">{name}</Label>
                </React.Fragment>
            ))}
            {typeNames.map((name, i) => (
                <React.Fragment key={name}>
                    <Swatch x={1105} y={[425, 479, 533][i]} w={25} h={22} color={typeSwatches[i]} />
                    <Label x={1157} y={[434, 488, 542][i]} size={48} color="#222">{name}</Label>
                </React.Fragment>
            ))}

            <Cladogram />
            <Swatch x={2357} y={147} w={46} h={22} color={TAXA_FILL.p} />
            <Label x={2429} y={154} size={48} color="#222">type1</Label>
            <Swatch x={2617} y={151} w={49} h={23} color={TAXA_FILL.o} />
            <Label x={2690} y={160} size={48} color="#222">type2</Label>
            <Swatch x={2878} y={155} w={49} h={23} color={TAXA_FILL.g} />
            <Label x={2952} y={165} size={48} color="#222">type2</Label>
            <TaxaColumn rows={taxaColumn1} swatchX={2357} textX={2429} />
            <TaxaColumn rows={taxaColumn2} swatchX={3080} textX={3153} />

            <StackedPanel />
            <Label x={42} y={1853} size={59} rotate={-90} color="#222">Relative abundance (%)</Label>
            {cogNames.map((name, i) => (
                <React.Fragment key={name}>
                    <Swatch x={1176} y={1310 + i * 48.1} w={44} h={45} color={cogColors[i]} />
                    <Label x={1237} y={1328 + i * 48.1} size={37} color="#222">{name}</Label>
                </React.Fragment>
            ))}
            {cogStarred.map(i => (
                <Label key={i} x={1123} y={1310 + i * 48.1 + 31} size={41} weight={700} color="#111">*</Label>
            ))}

            <DotPanel
                left={2330}
                plot={{ left: 259, top: 69, width: 381, height: 570 }}
                domainX={[0.33, 3.687]}
                domainY={[0, 4000000]}
                axisTop={4000000}
                points={abundancePoints}
                means={abundanceMean}
                lows={abundanceLow}
                highs={abundanceHigh}
                brackets={abundanceBrackets}
                stars={abundanceStars}
                ticks={abundanceYTicks}
                tickLabel={abundanceTick}
                labelRight={217}
            />
            <Label x={2378} y={2142} size={49} rotate={-90} color="#222">Abundance</Label>

            <DotPanel
                left={3050}
                plot={{ left: 261, top: 31, width: 378, height: 607.5 }}
                domainX={[0.368, 3.684]}
                domainY={[0, 1.6]}
                axisTop={1.5}
                points={ratioPoints}
                means={ratioMean}
                lows={ratioLow}
                highs={ratioHigh}
                brackets={ratioBrackets}
                stars={ratioStars}
                ticks={ratioYTicks}
                tickLabel={ratioTick}
                labelRight={228}
            />
            <Label x={3157} y={2142} size={50} rotate={-90} color="#222"><i>Firmicutes/Bacteroidetes</i> ratio</Label>
        </div>
    );
}
